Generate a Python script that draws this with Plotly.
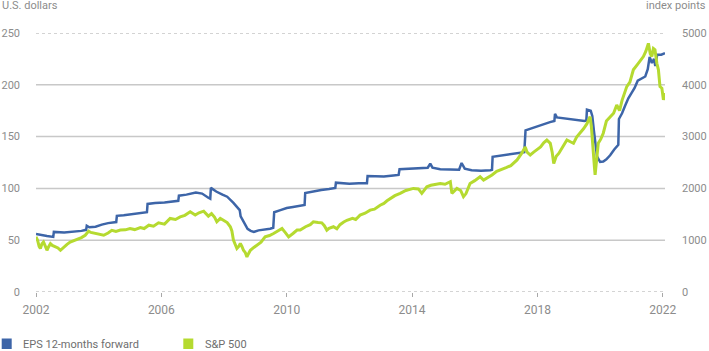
import plotly.graph_objects as go

# ---- data ----
eps_year = [2002.00, 2002.15, 2002.35, 2002.55, 2002.57, 2002.9, 2003.2, 2003.45, 2003.60, 2003.62,
            2003.7, 2003.9, 2004.1, 2004.3, 2004.56, 2004.58, 2004.8, 2005.0, 2005.3, 2005.54,
            2005.56, 2005.8, 2006.1, 2006.3, 2006.54, 2006.56, 2006.8, 2007.1, 2007.3, 2007.5,
            2007.56, 2007.58, 2007.75, 2007.95, 2008.1, 2008.3, 2008.5, 2008.53, 2008.65, 2008.75,
            2008.85, 2008.95, 2009.1, 2009.3, 2009.47, 2009.57, 2009.6, 2009.8, 2010.0, 2010.2,
            2010.4, 2010.57, 2010.59, 2010.8, 2011.1, 2011.35, 2011.55, 2011.57, 2011.8, 2012.0,
            2012.3, 2012.56, 2012.58, 2012.8, 2013.1, 2013.4, 2013.57, 2013.6, 2013.9, 2014.2,
            2014.5, 2014.58, 2014.65, 2014.9, 2015.2, 2015.5, 2015.58, 2015.68, 2015.9, 2016.2,
            2016.5, 2016.55, 2016.57, 2016.8, 2017.1, 2017.45, 2017.58, 2017.62, 2017.8, 2018.0,
            2018.2, 2018.4, 2018.54, 2018.56, 2018.62, 2018.9, 2019.2, 2019.5, 2019.56, 2019.58,
            2019.7, 2019.75, 2019.8, 2019.85, 2019.9, 2020.0, 2020.1, 2020.2, 2020.32, 2020.45,
            2020.58, 2020.6, 2020.7, 2020.8, 2020.9, 2021.0, 2021.1, 2021.2, 2021.3, 2021.44,
            2021.52, 2021.58, 2021.65, 2021.72, 2021.76, 2021.82, 2021.95, 2022.07]
eps_value = [56, 55, 54, 53.2, 58, 57.5, 58, 59, 60, 64,
             62.5, 63, 65, 66.5, 67.5, 73.5, 74, 75, 76, 77,
             85, 86, 86.5, 87, 88, 93, 94, 96, 95, 91,
             90, 100.5, 97, 94, 92, 86, 79, 73, 66, 61,
             59, 58, 59.5, 60, 61, 62, 77, 79, 81, 82,
             83, 84, 95.5, 97, 98.5, 99.5, 100.5, 105.5, 105, 104.5,
             105, 105, 112, 112, 111.5, 112.5, 113, 118.5, 119, 120,
             120, 124, 120, 118.5, 118, 118, 124.5, 119, 117.5, 117,
             117.5, 118, 130.5, 131.5, 132.5, 134, 135, 156, 158, 160,
             162, 164, 165, 172, 168.5, 167.5, 166, 165, 165.5, 176,
             175, 170, 156, 143, 131, 125.5, 126, 128, 132, 137.5,
             142, 167, 172.5, 180, 187, 192, 197, 204, 206, 208,
             215, 227, 221, 225, 218, 229, 229, 230.5]

spx_year = [2002.00, 2002.05, 2002.1, 2002.14, 2002.19, 2002.24, 2002.3, 2002.35, 2002.4, 2002.46,
            2002.52, 2002.62, 2002.7, 2002.78, 2002.85, 2002.92, 2002.99, 2003.09, 2003.2, 2003.31,
            2003.45, 2003.57, 2003.68, 2003.75, 2003.89, 2004.0, 2004.16, 2004.3, 2004.42, 2004.55,
            2004.69, 2004.85, 2005.0, 2005.15, 2005.33, 2005.45, 2005.6, 2005.75, 2005.91, 2006.1,
            2006.28, 2006.45, 2006.6, 2006.75, 2006.92, 2007.08, 2007.2, 2007.35, 2007.42, 2007.5,
            2007.6, 2007.7, 2007.77, 2007.88, 2007.98, 2008.1, 2008.2, 2008.25, 2008.3, 2008.36,
            2008.41, 2008.47, 2008.52, 2008.57, 2008.62, 2008.68, 2008.73, 2008.78, 2008.84, 2008.95,
            2009.05, 2009.18, 2009.31, 2009.45, 2009.58, 2009.72, 2009.85, 2009.95, 2010.06, 2010.2,
            2010.33, 2010.43, 2010.6, 2010.75, 2010.85, 2011.0, 2011.12, 2011.2, 2011.28, 2011.35,
            2011.49, 2011.6, 2011.7, 2011.82, 2011.92, 2012.1, 2012.2, 2012.34, 2012.5, 2012.66,
            2012.8, 2012.98, 2013.1, 2013.2, 2013.3, 2013.45, 2013.62, 2013.8, 2014.04, 2014.2,
            2014.31, 2014.4, 2014.47, 2014.6, 2014.75, 2014.9, 2015.05, 2015.22, 2015.27, 2015.35,
            2015.43, 2015.55, 2015.64, 2015.72, 2015.85, 2016.0, 2016.17, 2016.28, 2016.4, 2016.55,
            2016.7, 2016.82, 2017.0, 2017.15, 2017.35, 2017.5, 2017.61, 2017.67, 2017.77, 2017.88,
            2017.98, 2018.1, 2018.2, 2018.3, 2018.41, 2018.47, 2018.52, 2018.6, 2018.68, 2018.8,
            2018.94, 2019.05, 2019.15, 2019.25, 2019.36, 2019.47, 2019.58, 2019.68, 2019.72, 2019.76,
            2019.79, 2019.82, 2019.84, 2019.88, 2019.94, 2020.02, 2020.1, 2020.2, 2020.32, 2020.43,
            2020.53, 2020.62, 2020.7, 2020.85, 2020.95, 2021.06, 2021.2, 2021.38, 2021.46, 2021.54,
            2021.6, 2021.65, 2021.7, 2021.75, 2021.81, 2021.86, 2021.91, 2021.97, 2022.02, 2022.07]
spx_value = [1065, 1000, 880, 840, 930, 965, 880, 805, 870, 935,
             900, 870, 850, 805, 850, 890, 920, 965, 990, 1015,
             1050, 1095, 1175, 1150, 1130, 1110, 1095, 1140, 1190, 1170,
             1195, 1200, 1225, 1205, 1245, 1225, 1290, 1270, 1335, 1310,
             1420, 1400, 1450, 1480, 1548, 1485, 1530, 1560, 1520, 1465,
             1515, 1440, 1355, 1420, 1385, 1340, 1260, 1180, 1000, 900,
             840, 880, 935, 880, 805, 760, 677, 740, 805, 860,
             905, 960, 1065, 1090, 1130, 1180, 1225, 1150, 1065, 1130,
             1195, 1195, 1260, 1300, 1355, 1340, 1335, 1280, 1195, 1230,
             1260, 1220, 1300, 1350, 1385, 1420, 1400, 1485, 1520, 1580,
             1600, 1675, 1710, 1760, 1805, 1860, 1905, 1960, 2000, 1990,
             1905, 1980, 2030, 2060, 2080, 2095, 2080, 2130, 1905, 1960,
             2000, 1960, 1840, 1900, 2095, 2150, 2225, 2160, 2200, 2260,
             2330, 2355, 2400, 2440, 2550, 2680, 2800, 2700, 2645, 2700,
             2740, 2800, 2880, 2935, 2870, 2700, 2480, 2620, 2675, 2800,
             2935, 2900, 2870, 2990, 3065, 3150, 3250, 3385, 3200, 2800,
             2610, 2400, 2260, 2550, 2870, 2950, 3065, 3300, 3380, 3450,
             3610, 3500, 3700, 3965, 4050, 4290, 4400, 4545, 4650, 4800,
             4600, 4545, 4700, 4675, 4415, 4290, 3965, 3935, 3710, 3840]

x_ticks = [2002, 2006, 2010, 2014, 2018, 2022]
x_tick_labels = ["2002", "2006", "2010", "2014", "2018", "2022"]
left_ticks = [0, 50, 100, 150, 200, 250]
right_ticks = [0, 1000, 2000, 3000, 4000, 5000]
series_names = ["EPS 12-months forward", "S&P 500"]
series_colors = ["#3d65a8", "#b5da30"]

# ---- layout constants ----
W, H = 709, 351
ML, MR, MT, MB = 36, 44, 33, 59
PW, PH = W - ML - MR, H - MT - MB
TEXT = "#8c8c8c"
FONT = "Roboto, Arial, sans-serif"


def px_x(p):
    return (p - ML) / PW


def px_y(p):
    return (H - MB - p) / PH


fig = go.Figure()
fig.add_trace(go.Scatter(x=spx_year, y=spx_value, mode="lines", name=series_names[1],
                         line=dict(color=series_colors[1], width=3), yaxis="y2",
                         showlegend=False))
fig.add_trace(go.Scatter(x=eps_year, y=eps_value, mode="lines", name=series_names[0],
                         line=dict(color=series_colors[0], width=2.5), yaxis="y",
                         showlegend=False))

shapes = []
for v in left_ticks:
    if v in (left_ticks[0], left_ticks[-1]):
        shapes.append(dict(type="line", xref="paper", yref="y", x0=0, x1=1, y0=v, y1=v,
                           line=dict(color="#a8a8a8", width=1, dash="dot"), layer="below"))
    else:
        shapes.append(dict(type="line", xref="paper", yref="y", x0=0, x1=1, y0=v, y1=v,
                           line=dict(color="#c8c8c8", width=1.5), layer="below"))

# legend swatches
legend_pos = [(1.7, 20.7), (183.3, 202.7)]
for (sx, tx), c in zip(legend_pos, series_colors):
    shapes.append(dict(type="rect", xref="paper", yref="paper",
                       x0=px_x(sx), x1=px_x(sx + 10), y0=px_y(349), y1=px_y(338.5),
                       fillcolor=c, line=dict(width=0)))

annotations = [
    dict(text="U.S. dollars", xref="paper", yref="paper", x=px_x(0), y=px_y(6),
         xanchor="left", yanchor="middle", showarrow=False,
         font=dict(family=FONT, size=11, color=TEXT)),
    dict(text="index points", xref="paper", yref="paper", x=px_x(708), y=px_y(6),
         xanchor="right", yanchor="middle", showarrow=False,
         font=dict(family=FONT, size=11, color=TEXT)),
]
for (sx, tx), name in zip(legend_pos, series_names):
    annotations.append(dict(text=name, xref="paper", yref="paper", x=px_x(tx), y=px_y(344),
                            xanchor="left", yanchor="middle", showarrow=False,
                            font=dict(family=FONT, size=11, color="#6e6e6e")))

fig.update_layout(
    width=W, height=H,
    margin=dict(l=ML, r=MR, t=MT, b=MB, pad=0),
    paper_bgcolor="white", plot_bgcolor="white",
    font=dict(family=FONT, size=11, color=TEXT),
    showlegend=False,
    xaxis=dict(range=[2002, 2022.07], tickvals=x_ticks, ticktext=x_tick_labels,
               ticks="outside", ticklen=4, tickwidth=1, tickcolor="#a8a8a8",
               showgrid=False, zeroline=False, showline=False, automargin=False,
               ticklabelstandoff=3, tickfont=dict(family=FONT, size=12, color=TEXT)),
    yaxis=dict(range=[0, 250], tickvals=left_ticks, showgrid=False, zeroline=False,
               showline=False, ticks="", automargin=False, ticklabelstandoff=15,
               tickfont=dict(family=FONT, size=11, color=TEXT)),
    yaxis2=dict(range=[0, 5000], tickvals=right_ticks, overlaying="y", side="right",
                showgrid=False, zeroline=False, showline=False, ticks="", automargin=False,
                ticklabelstandoff=16, tickfont=dict(family=FONT, size=11, color=TEXT)),
    shapes=shapes,
    annotations=annotations,
)

fig.write_html("out.html")
